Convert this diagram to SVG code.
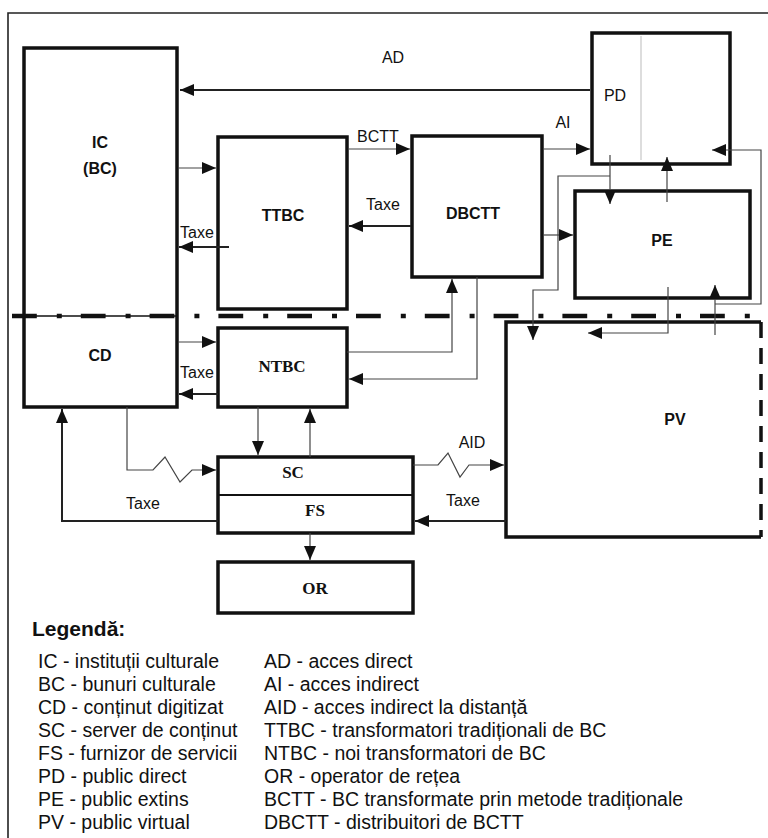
<svg xmlns="http://www.w3.org/2000/svg" width="768" height="838" viewBox="0 0 768 838">
<defs>
<marker id="ah" markerUnits="userSpaceOnUse" markerWidth="15" markerHeight="13" refX="14" refY="6" orient="auto">
<path d="M0,0 L14,6 L0,12 z" fill="#111"/>
</marker>
<style>
.box{fill:#fff;stroke:#111;stroke-width:3.5}
.c{fill:none;stroke:#444;stroke-width:1.2;marker-end:url(#ah)}
.cd{fill:none;stroke:#222;stroke-width:2;marker-end:url(#ah)}
.ln{fill:none;stroke:#444;stroke-width:1.2}
.lb{font-family:"Liberation Sans",Arial,sans-serif;font-size:16px;fill:#111}
.nb{font-family:"Liberation Sans",Arial,sans-serif;font-size:16px;font-weight:bold;fill:#111;text-anchor:middle}
.ns{font-family:"Liberation Serif","Times New Roman",serif;font-size:17px;font-weight:bold;fill:#111;text-anchor:middle}
.lg{font-family:"Liberation Sans",Arial,sans-serif;font-size:19.5px;fill:#111}
</style>
</defs>
<rect width="768" height="838" fill="#fff"/>
<path d="M8,838 V13 H768" fill="none" stroke="#222" stroke-width="1.6"/>

<g id="IC">
<rect class="box" x="24" y="48" width="153" height="359"/>
<text class="nb" x="100" y="148">IC</text>
<text class="nb" x="100" y="174">(BC)</text>
</g>
<g id="CD">
<text class="nb" x="100" y="361">CD</text>
</g>
<g id="TTBC">
<rect class="box" x="218" y="137" width="129" height="172"/>
<text class="nb" x="283" y="221">TTBC</text>
</g>
<g id="DBCTT">
<rect class="box" x="412" y="136" width="130" height="141"/>
<text class="nb" x="473" y="219">DBCTT</text>
</g>
<g id="PD">
<rect class="box" x="592" y="33" width="138" height="131"/>
<line x1="641" y1="36" x2="641" y2="160" stroke="#aaa" stroke-width="0.8"/>
<text class="lb" x="615" y="101" text-anchor="middle">PD</text>
</g>
<g id="PE">
<rect class="box" x="575" y="191" width="175" height="107"/>
<text class="nb" x="662" y="246">PE</text>
</g>
<g id="PV">
<rect x="506" y="322" width="255" height="215" fill="#fff"/>
<path d="M761,322 H506 V537 H761" fill="none" stroke="#111" stroke-width="3.5"/>
<line x1="761" y1="322" x2="761" y2="537" stroke="#111" stroke-width="3.5" stroke-dasharray="16 10"/>
<text class="nb" x="675" y="425">PV</text>
</g>
<g id="NTBC">
<rect class="box" x="218" y="328" width="129" height="79"/>
<text class="ns" x="282" y="372">NTBC</text>
</g>
<g id="SC-FS">
<rect class="box" x="218" y="457" width="195" height="76"/>
<line x1="218" y1="495" x2="413" y2="495" stroke="#111" stroke-width="2"/>
<text class="ns" x="293" y="478">SC</text>
<text class="ns" x="315" y="516">FS</text>
</g>
<g id="OR">
<rect class="box" x="218" y="562" width="195" height="51"/>
<text class="ns" x="315" y="594">OR</text>
</g>

<g id="separator">
<line x1="12" y1="316" x2="177" y2="316" stroke="#111" stroke-width="1.5"/>
<line x1="12" y1="316" x2="768" y2="316" stroke="#111" stroke-width="4.5" stroke-dasharray="24.8 20 5 19"/>
</g>

<g id="connectors">
<path class="cd" d="M590,90 H180"/>
<path class="c" d="M178,168 H216"/>
<path class="cd" d="M229,247 H179"/>
<path class="c" d="M348,149 H410"/>
<path class="cd" d="M411,226 H349"/>
<path class="c" d="M543,149 H590"/>
<path class="c" d="M543,235 H573"/>
<path class="c" d="M610,155 V204"/>
<path class="c" d="M667,202 V157"/>
<path class="c" d="M715,335 V285"/>
<path class="c" d="M715,304 H761 V150 H712"/>
<path class="c" d="M668,287 V333 H588"/>
<path class="c" d="M610,176 H558 V290 H533 V340"/>
<path class="c" d="M477,277 V379 H349"/>
<path class="c" d="M347,352 H452 V279"/>
<path class="c" d="M178,342 H216"/>
<path class="cd" d="M218,394 H179"/>
<path class="c" d="M258,407 V455"/>
<path class="c" d="M310,457 V409"/>
<path class="c" d="M127,407 V470 H153 L165,457 L180,482 L192,470 H216"/>
<path class="cd" d="M218,521 H62 V409"/>
<path class="c" d="M413,465 H438 L448,453 L460,477 L469,465 H504"/>
<path class="cd" d="M506,521 H415"/>
<path class="c" d="M310,533 V560"/>
</g>

<g id="labels">
<text class="lb" x="393" y="63" text-anchor="middle">AD</text>
<text class="lb" x="378" y="142" text-anchor="middle">BCTT</text>
<text class="lb" x="563" y="128" text-anchor="middle">AI</text>
<text class="lb" x="197" y="238" text-anchor="middle">Taxe</text>
<text class="lb" x="383" y="210" text-anchor="middle">Taxe</text>
<text class="lb" x="197" y="378" text-anchor="middle">Taxe</text>
<text class="lb" x="143" y="509" text-anchor="middle">Taxe</text>
<text class="lb" x="472" y="448" text-anchor="middle">AID</text>
<text class="lb" x="463" y="506" text-anchor="middle">Taxe</text>
</g>

<g id="legend">
<text x="32" y="636" font-family="'Liberation Sans',Arial,sans-serif" font-size="21" font-weight="bold" fill="#111">Legendă:</text>
<text class="lg" x="38" y="668">IC - instituții culturale</text>
<text class="lg" x="38" y="691">BC - bunuri culturale</text>
<text class="lg" x="38" y="714">CD - conținut digitizat</text>
<text class="lg" x="38" y="737">SC - server de conținut</text>
<text class="lg" x="38" y="760">FS - furnizor de servicii</text>
<text class="lg" x="38" y="783">PD - public direct</text>
<text class="lg" x="38" y="806">PE - public extins</text>
<text class="lg" x="38" y="829">PV - public virtual</text>
<text class="lg" x="264" y="668">AD - acces direct</text>
<text class="lg" x="264" y="691">AI - acces indirect</text>
<text class="lg" x="264" y="714">AID - acces indirect la distanță</text>
<text class="lg" x="264" y="737">TTBC - transformatori tradiționali de BC</text>
<text class="lg" x="264" y="760">NTBC - noi transformatori de BC</text>
<text class="lg" x="264" y="783">OR - operator de rețea</text>
<text class="lg" x="264" y="806">BCTT - BC transformate prin metode tradiționale</text>
<text class="lg" x="264" y="829">DBCTT - distribuitori de BCTT</text>
</g>
</svg>
